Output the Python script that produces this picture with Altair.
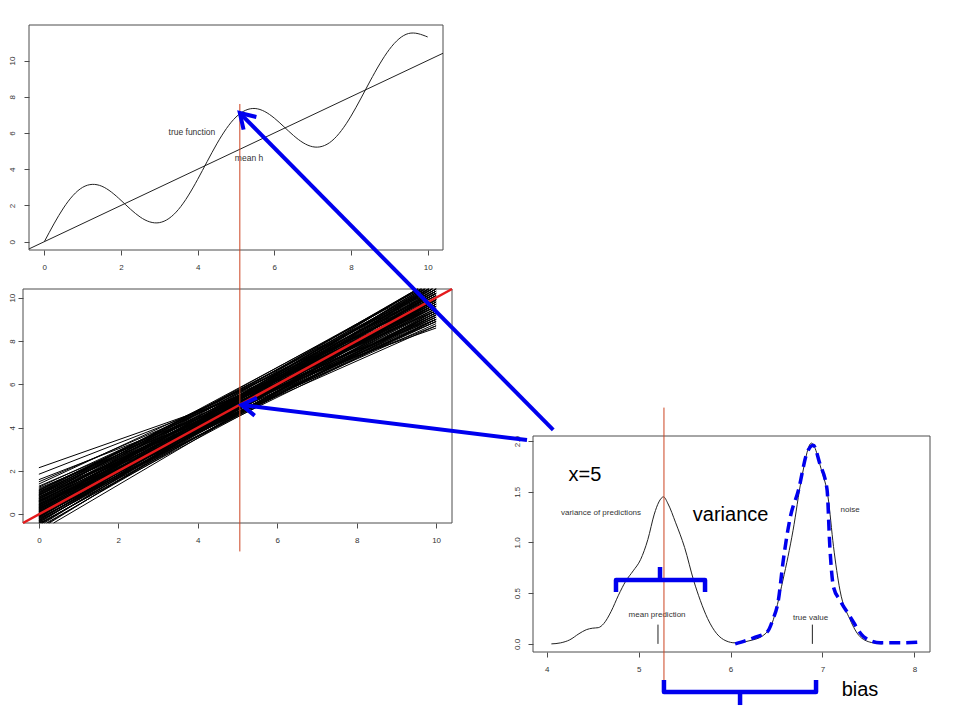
import math
import altair as alt
import pandas as pd

W, H = 944, 704
FONT = "Liberation Sans"
AX_COLOR = "#4d4d4d"
LBL_COLOR = "#333333"
BLUE = "#0000ee"
RED_THIN = "#cc4422"
RED_THICK = "#e41a1c"

# ---------------- top panel: true function and mean hypothesis ----------------
true_x = [0.0, 0.5, 1.0, 1.5, 2.0, 2.5, 3.0, 3.5, 4.0, 4.5, 5.0,
          5.5, 6.0, 6.5, 7.0, 7.5, 8.0, 8.5, 9.0, 9.5, 10.0]
true_y = [0.0, 1.86, 3.0, 3.06, 2.28, 1.36, 1.05, 1.78, 3.44, 5.40, 6.88,
          7.35, 6.82, 5.86, 5.24, 5.56, 6.93, 8.87, 10.61, 11.49, 11.30]
meanh_x = [-0.4, 10.4]
meanh_y = [-0.4, 10.4]
top_labels = ["true function", "mean h"]
top_label_x = [3.85, 5.34]
top_label_y = [6.05, 4.62]
query_x = 5.1
query_y = [7.6, -17.1]

# ---------------- middle panel: many fitted lines (value at x=0, value at x=10) ----------------
fit_y0 = [2.15, 1.85, 1.5, 1.2, 1.15, 1.1, 1.05, 1.0, 0.95, 0.9,
          0.85, 0.8, 0.78, 0.75, 0.7, 0.65, 0.62, 0.6, 0.55, 0.5,
          0.48, 0.45, 0.4, 0.38, 0.35, 0.3, 0.28, 0.25, 0.2, 0.18,
          0.15, 0.1, 0.08, 0.05, 0.0, -0.02, -0.05, -0.1, -0.12, -0.15,
          -0.2, -0.25, -0.3, -0.35, -0.4, -0.45, -0.5, -0.6, -0.7, -0.8,
          1.3, 1.25, 1.12, 1.08, 0.98, 0.92, 0.88, 0.82, 0.72, 0.68,
          0.64, 0.58, 0.52, 0.46, 0.42, 0.36, 0.32, 0.26, 0.22, 0.16,
          0.12, 0.06, 0.02, -0.03, -0.07, -0.11, -0.16, -0.22, -0.27, -0.32,
          -0.37, -0.42, -0.48, -0.55, -0.65, 1.6, 1.4, 0.9, 0.57, 0.0,
          0.33, -0.08, 1.02, 0.74, 0.44, 0.14, -0.18, -0.28, 0.62, 0.24]
fit_y10 = [8.6, 9.0, 9.4, 8.9, 9.6, 10.2, 9.2, 9.8, 10.5, 9.0,
           10.0, 9.5, 10.6, 9.3, 9.9, 10.3, 8.8, 9.6, 10.8, 9.4,
           10.1, 9.7, 10.4, 9.1, 9.9, 10.6, 9.5, 10.2, 9.8, 10.9,
           9.3, 10.0, 10.5, 9.6, 10.3, 9.9, 10.7, 9.5, 10.2, 10.9,
           9.8, 10.5, 9.4, 10.1, 10.8, 9.7, 10.4, 9.9, 10.6, 10.0,
           9.1, 9.7, 9.4, 10.0, 9.1, 9.7, 10.3, 8.9, 9.6, 10.5,
           9.2, 9.9, 10.2, 9.0, 9.8, 10.3, 9.3, 9.7, 10.7, 9.9,
           9.2, 10.2, 9.7, 10.5, 9.2, 9.9, 10.4, 9.6, 10.2, 9.9,
           10.6, 9.4, 10.2, 10.7, 10.3, 8.7, 9.9, 10.7, 8.7, 9.0,
           10.9, 10.9, 10.4, 10.8, 8.9, 10.6, 9.3, 10.8, 10.1, 9.0]
mean_fit_x = [-0.4, 10.4]
mean_fit_y = [-0.4, 10.4]

# ---------------- bottom panel: densities at x=5 ----------------
pred_x = [4.05, 4.15, 4.25, 4.35, 4.43, 4.5, 4.56, 4.62, 4.7, 4.78,
          4.86, 4.94, 5.02, 5.1, 5.17, 5.22, 5.27, 5.32, 5.4, 5.5,
          5.6, 5.67, 5.75, 5.85, 5.95, 6.05, 6.2, 6.35, 6.45, 6.57,
          6.68, 6.77, 6.88, 6.99, 7.06, 7.12, 7.19, 7.3, 7.41, 7.55, 7.65]
pred_y = [0.0, 0.01, 0.04, 0.1, 0.14, 0.155, 0.16, 0.2, 0.32, 0.48,
          0.62, 0.72, 0.83, 1.03, 1.28, 1.4, 1.45, 1.38, 1.2, 0.95,
          0.62, 0.43, 0.25, 0.1, 0.03, 0.01, 0.03, 0.08, 0.2, 0.63,
          1.12, 1.62, 1.98, 1.71, 1.45, 0.96, 0.53, 0.24, 0.07, 0.01, 0.0]
noise_x = [6.05, 6.25, 6.4, 6.46, 6.52, 6.57, 6.65, 6.74, 6.83, 6.9,
           6.97, 7.05, 7.08, 7.12, 7.19, 7.3, 7.45, 7.63, 7.85, 8.08]
noise_y = [0.0, 0.06, 0.12, 0.24, 0.43, 0.8, 1.25, 1.52, 1.88, 1.96,
           1.78, 1.52, 0.96, 0.56, 0.43, 0.27, 0.07, 0.01, 0.01, 0.02]
marker_x = [5.21, 6.89]
marker_y = [0.0, 0.19]
bot_labels = ["variance of predictions", "noise", "mean prediction", "true value"]
bot_label_x = [4.59, 7.3, 5.2, 6.87]
bot_label_y = [1.29, 1.32, 0.28, 0.26]
mean_pred_x = 5.275
mean_pred_y = [2.33, -0.36]

# annotations (in bottom-panel data units)
note_text = ["x=5", "variance", "bias"]
note_x = [4.416, 6.0, 7.408]
note_y = [1.665, 1.27, -0.455]
brace_var_x = [4.753, 4.753, 5.722, 5.722]
brace_var_y = [0.512, 0.63, 0.63, 0.512]
brace_var_stem_x = [5.232, 5.232]
brace_var_stem_y = [0.63, 0.758]
brace_bias_x = [5.275, 5.275, 6.93, 6.93]
brace_bias_y = [-0.356, -0.474, -0.474, -0.356]
brace_bias_stem_x = [6.103, 6.103]
brace_bias_stem_y = [-0.474, -0.603]

# arrows: (panel, x, y) tail -> head
arrow_from = [("bottom", 4.07, 2.11), ("bottom", 3.785, 2.01)]
arrow_to = [("top", 5.1, 7.1), ("middle", 5.1, 5.05)]

# ---------------- panel layout (domains and pixel ranges) ----------------
PANELS = {
    "top": (([-0.4, 10.4], [21, 435]), ([-0.46, 11.96], [242, 17])),
    "middle": (([-0.4, 10.4], [15, 444]), ([-0.4, 10.4], [515, 281])),
    "bottom": (([3.85, 8.17], [525, 922]), ([-0.08, 2.05], [644, 428])),
}


def to_px(panel, x, y):
    (xd, xr), (yd, yr) = PANELS[panel]
    px = xr[0] + (x - xd[0]) / (xd[1] - xd[0]) * (xr[1] - xr[0])
    py = yr[0] + (y - yd[0]) / (yd[1] - yd[0]) * (yr[1] - yr[0])
    return px, py


def sc(dom, rng):
    return alt.Scale(domain=dom, range=rng, nice=False, zero=False)


def xaxis(vals, bottom_px, fmt, pad):
    return alt.Axis(orient="bottom", offset=bottom_px - H, values=vals, format=fmt,
                    domain=False, grid=False, ticks=True, tickSize=5, tickColor=AX_COLOR,
                    labelFontSize=8, labelColor=LBL_COLOR, labelFont=FONT,
                    labelPadding=pad, labelFlush=False, labelOverlap=False, title=None)


def yaxis(vals, left_px, fmt, pad):
    return alt.Axis(orient="left", offset=-left_px, values=vals, format=fmt,
                    domain=False, grid=False, ticks=True, tickSize=5, tickColor=AX_COLOR,
                    labelFontSize=8, labelColor=LBL_COLOR, labelFont=FONT,
                    labelPadding=pad, labelAngle=270, labelAlign="center",
                    labelBaseline="bottom", labelFlush=False, labelOverlap=False, title=None)


def panel_enc(panel, xax, yax):
    (xd, xr), (yd, yr) = PANELS[panel]
    xs, ys = sc(xd, xr), sc(yd, yr)

    def X(f="x"):
        return alt.X(f"{f}:Q", scale=xs, axis=xax, title=None)

    def Y(f="y"):
        return alt.Y(f"{f}:Q", scale=ys, axis=yax, title=None)
    return X, Y


def box_layer(panel, X, Y):
    (xd, _), (yd, _) = PANELS[panel]
    df = pd.DataFrame({"x": [xd[0]], "x2": [xd[1]], "y": [yd[0]], "y2": [yd[1]]})
    return alt.Chart(df).mark_rect(fillOpacity=0, stroke=AX_COLOR, strokeWidth=1).encode(
        x=X(), x2="x2:Q", y=Y(), y2="y2:Q")


def text_layer(labels, xs, ys, X, Y, size, color):
    df = pd.DataFrame({"t": labels, "x": xs, "y": ys})
    return alt.Chart(df).mark_text(font=FONT, fontSize=size, color=color,
                                   align="center", baseline="middle").encode(
        x=X(), y=Y(), text="t:N")


def path_df(xs, ys, pid):
    return pd.DataFrame({"x": xs, "y": ys, "id": [pid] * len(xs), "o": list(range(len(xs)))})


# ---------------- top panel ----------------
tX, tY = panel_enc("top", xaxis([0, 2, 4, 6, 8, 10], 242, "d", 8),
                   yaxis([0, 2, 4, 6, 8, 10], 21, "d", 8))
top = alt.layer(
    box_layer("top", tX, tY),
    alt.Chart(pd.DataFrame({"x": true_x, "y": true_y})).mark_line(
        interpolate="natural", color="#222222", strokeWidth=1).encode(x=tX(), y=tY()),
    alt.Chart(pd.DataFrame({"x": meanh_x, "y": meanh_y})).mark_line(
        color="#222222", strokeWidth=1).encode(x=tX(), y=tY()),
    text_layer(top_labels, top_label_x, top_label_y, tX, tY, 8.5, LBL_COLOR),
    alt.Chart(pd.DataFrame({"x": [query_x], "y": [query_y[0]], "y2": [query_y[1]]})).mark_rule(
        color=RED_THIN, strokeWidth=1).encode(x=tX(), y=tY(), y2="y2:Q"),
)

# ---------------- middle panel ----------------
mX, mY = panel_enc("middle", xaxis([0, 2, 4, 6, 8, 10], 515, "d", 8),
                   yaxis([0, 2, 4, 6, 8, 10], 15, "d", 2))
ylo, yhi = PANELS["middle"][1][0]
rows = []
for i, (a, c) in enumerate(zip(fit_y0, fit_y10)):
    b = (c - a) / 10.0
    xs = 0.0 if a >= ylo else (ylo - a) / b
    xe = 10.0 if c <= yhi else (yhi - a) / b
    rows.append({"id": i, "x": xs, "y": a + b * xs})
    rows.append({"id": i, "x": xe, "y": a + b * xe})
fits = pd.DataFrame(rows)
middle = alt.layer(
    box_layer("middle", mX, mY),
    alt.Chart(fits).mark_line(color="#000000", strokeWidth=1).encode(
        x=mX(), y=mY(), detail="id:N"),
    alt.Chart(pd.DataFrame({"x": mean_fit_x, "y": mean_fit_y})).mark_line(
        color=RED_THICK, strokeWidth=2.5).encode(x=mX(), y=mY()),
)

# ---------------- bottom panel ----------------
bX, bY = panel_enc("bottom", xaxis([4, 5, 6, 7, 8], 644, "d", 8),
                   yaxis([0, 0.5, 1.0, 1.5, 2.0], 525, ".1f", 7))
braces = pd.concat([
    path_df(brace_var_x, brace_var_y, 0),
    path_df(brace_var_stem_x, brace_var_stem_y, 1),
    path_df(brace_bias_x, brace_bias_y, 2),
    path_df(brace_bias_stem_x, brace_bias_stem_y, 3),
])
bottom = alt.layer(
    box_layer("bottom", bX, bY),
    alt.Chart(pd.DataFrame({"x": pred_x, "y": pred_y})).mark_line(
        interpolate="monotone", color="#222222", strokeWidth=1).encode(x=bX(), y=bY()),
    alt.Chart(pd.DataFrame({"x": noise_x, "y": noise_y})).mark_line(
        interpolate="monotone", color=BLUE, strokeWidth=3.5, strokeDash=[11, 6]).encode(
        x=bX(), y=bY()),
    alt.Chart(pd.DataFrame({"x": marker_x, "y": [marker_y[0]] * 2, "y2": [marker_y[1]] * 2})).mark_rule(
        color="#222222", strokeWidth=1).encode(x=bX(), y=bY(), y2="y2:Q"),
    text_layer(bot_labels, bot_label_x, bot_label_y, bX, bY, 8, LBL_COLOR),
    alt.Chart(pd.DataFrame({"x": [mean_pred_x], "y": [mean_pred_y[0]], "y2": [mean_pred_y[1]]})).mark_rule(
        color=RED_THIN, strokeWidth=1).encode(x=bX(), y=bY(), y2="y2:Q"),
    alt.Chart(braces).mark_line(color=BLUE, strokeWidth=4.5, strokeJoin="round").encode(
        x=bX(), y=bY(), detail="id:N", order="o:Q"),
    text_layer(note_text, note_x, note_y, bX, bY, 20, "#000000"),
)

# ---------------- overlay: arrows across panels ----------------
arows = []
pid = 0
for (pf, xf, yf), (pt, xt, yt) in zip(arrow_from, arrow_to):
    x0, y0 = to_px(pf, xf, yf)
    x1, y1 = to_px(pt, xt, yt)
    L = math.hypot(x0 - x1, y0 - y1)
    dx, dy = (x0 - x1) / L, (y0 - y1) / L
    arows += [{"id": pid, "o": 0, "x": x0, "y": y0}, {"id": pid, "o": 1, "x": x1, "y": y1}]
    pid += 1
    head = []
    for ang in (math.radians(32), 0.0, -math.radians(32)):
        if ang == 0.0:
            head.append((x1, y1))
        else:
            c, s = math.cos(ang), math.sin(ang)
            head.append((x1 + 17 * (dx * c - dy * s), y1 + 17 * (dx * s + dy * c)))
    for k, (hx, hy) in enumerate(head):
        arows.append({"id": pid, "o": k, "x": hx, "y": hy})
    pid += 1
arrows = pd.DataFrame(arows)
overlay = alt.Chart(arrows).mark_line(color=BLUE, strokeWidth=4, strokeJoin="miter").encode(
    x=alt.X("x:Q", scale=sc([0, W], [0, W]), axis=None),
    y=alt.Y("y:Q", scale=sc([0, H], [0, H]), axis=None),
    detail="id:N", order="o:Q")

chart = alt.layer(middle, top, bottom, overlay).resolve_scale(
    x="independent", y="independent"
).properties(
    width=W, height=H, padding=0, autosize=alt.AutoSizeParams(type="none"),
    background="white"
).configure_view(stroke=None)

chart.save("out.html", embed_options={"renderer": "svg", "actions": False})
